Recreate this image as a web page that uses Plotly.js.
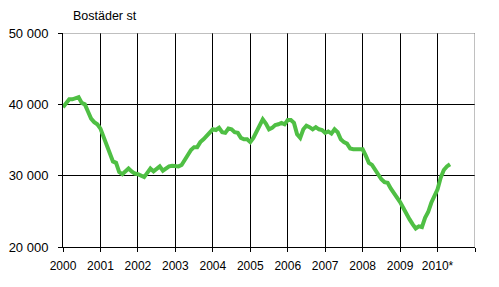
<!DOCTYPE html>
<html>
<head>
<meta charset="utf-8">
<script src="https://cdn.plot.ly/plotly-3.0.1.min.js"></script>
<style>html,body{margin:0;padding:0;background:#fff;}#chart{width:499px;height:287px;}</style>
</head>
<body>
<div id="chart"></div>
<script>
// Monthly values from Jan 2000 to May 2010
const startYear = 2000;
const values = [
  39600, 40200, 40700, 40700, 40900, 41000, 40200, 40000, 39000, 38000, 37500, 37200,
  36600, 35400, 34000, 32800, 32000, 31800, 30500, 30200, 30700, 31000, 30600, 30300,
  30200, 30000, 29800, 30400, 31000, 30600, 31000, 31300, 30700, 31000, 31300, 31400,
  31300, 31300, 31500, 32100, 32900, 33600, 34000, 34000, 34700, 35100, 35600, 36000,
  36500, 36400, 36700, 36100, 36000, 36600, 36500, 36100, 36000, 35300, 35100, 35100,
  34700, 35300, 36100, 37000, 37900, 37300, 36500, 36700, 37100, 37200, 37400, 37200,
  37800, 37800, 37400, 35800, 35300, 36500, 37000, 36800, 36500, 36800, 36500, 36400,
  36000, 36200, 35900, 36500, 36100, 35100, 34700, 34500, 33800, 33700, 33700, 33700,
  33700, 32800, 31800, 31500, 30800, 30100, 29500, 29100, 29000, 28200, 27600, 26900,
  26300, 25500, 24600, 23900, 23200, 22600, 22900, 22800, 24100, 24900, 26200, 27100,
  28100, 29700, 30800, 31300, 31600
];
const yearTicks = [2000, 2001, 2002, 2003, 2004, 2005, 2006, 2007, 2008, 2009, 2010, 2011];
const yearLabels = ["2000", "2001", "2002", "2003", "2004", "2005", "2006", "2007", "2008", "2009", "2010*", ""];
const yTicks = [20000, 30000, 40000, 50000];
const yLabels = ["20 000", "30 000", "40 000", "50 000"];
const yTitle = "Bostäder st";

const xs = values.map((v, i) => startYear + i / 12);

const trace = {
  x: xs, y: values, type: 'scatter', mode: 'lines',
  line: {color: '#4fbf44', width: 4},
  hoverinfo: 'skip'
};

const layout = {
  width: 499, height: 287,
  margin: {l: 63, r: 24, t: 33, b: 40},
  paper_bgcolor: '#fff', plot_bgcolor: '#fff',
  font: {family: 'Liberation Sans, Arial, sans-serif', size: 12, color: '#000'},
  showlegend: false,
  xaxis: {
    range: [2000, 2011], tickmode: 'array', tickvals: yearTicks, ticktext: yearLabels,
    showgrid: true, gridcolor: '#000', gridwidth: 1,
    showline: true, linecolor: '#000', linewidth: 1,
    ticks: 'outside', ticklen: 4, tickcolor: '#000', ticklabelstandoff: 4,
    zeroline: false, fixedrange: true, tickfont: {size: 12}
  },
  yaxis: {
    range: [20000, 50000], tickmode: 'array', tickvals: yTicks, ticktext: yLabels,
    showgrid: true, gridcolor: '#000', gridwidth: 1,
    showline: true, linecolor: '#000', linewidth: 1,
    ticks: 'outside', ticklen: 4, tickcolor: '#000', ticklabelstandoff: 7,
    zeroline: false, fixedrange: true, tickfont: {size: 13}
  },
  shapes: [
    {type: 'line', xref: 'x', yref: 'y', x0: 2000, x1: 2011, y0: 50000, y1: 50000, line: {color: '#808080', width: 1}, layer: 'above'},
    {type: 'line', xref: 'x', yref: 'y', x0: 2011, x1: 2011, y0: 20000, y1: 50000, line: {color: '#808080', width: 1}, layer: 'above'}
  ],
  annotations: [
    {text: yTitle, xref: 'paper', yref: 'paper', x: 0.02, y: 1, yshift: 8, xanchor: 'left', yanchor: 'bottom', showarrow: false, font: {size: 12.5}}
  ]
};

Plotly.newPlot('chart', [trace], layout, {displayModeBar: false, staticPlot: true});
</script>
</body>
</html>
